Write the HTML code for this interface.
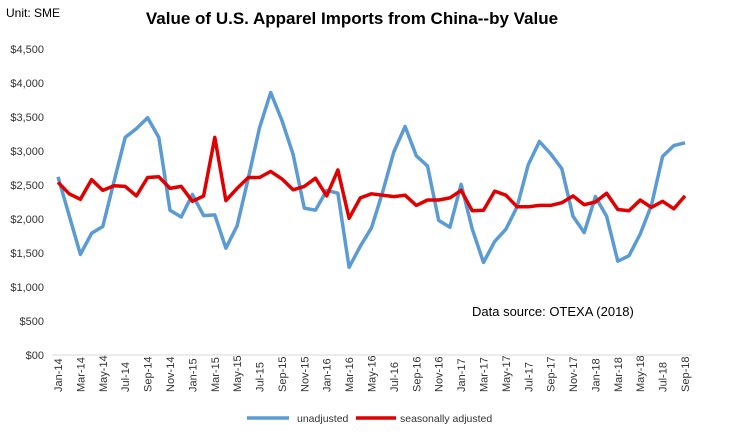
<!DOCTYPE html>
<html><head><meta charset="utf-8"><style>
body{margin:0;background:#fff;}
svg text{font-family:"Liberation Sans",sans-serif;}
</style></head><body>
<svg id="c" width="731" height="432" xmlns="http://www.w3.org/2000/svg">
<rect width="731" height="432" fill="#fff"/>
<text x="6" y="17" font-size="12" fill="#000">Unit: SME</text>
<text x="352" y="24" font-size="17" font-weight="bold" text-anchor="middle" fill="#000">Value of U.S. Apparel Imports from China--by Value</text>
<g id="yl" font-size="11" fill="#333" text-anchor="end"></g>
<line x1="52" y1="355" x2="692" y2="355" stroke="#d9d9d9" stroke-width="1"/>
<g id="xl" font-size="11" fill="#333"></g>
<polyline id="b" fill="none" stroke="#5b9bd5" stroke-width="3.5" stroke-linejoin="round"/>
<polyline id="r" fill="none" stroke="#e00000" stroke-width="3.5" stroke-linejoin="round"/>
<text x="472" y="316" font-size="13" fill="#000">Data source: OTEXA (2018)</text>
<line x1="247" y1="418" x2="289" y2="418" stroke="#5b9bd5" stroke-width="3.5"/>
<text x="297" y="422" font-size="10.5" fill="#333">unadjusted</text>
<line x1="356" y1="418" x2="396" y2="418" stroke="#e00000" stroke-width="3.5"/>
<text x="400" y="422" font-size="10.5" fill="#333">seasonally adjusted</text>
</svg>
<script>
var NS="http://www.w3.org/2000/svg";
function Y(v){return 355-v*0.068;}
function X(i){return 58+i*627/56;}
var yl=document.getElementById('yl');
for(var v=0;v<=4500;v+=500){var t=document.createElementNS(NS,'text');t.setAttribute('x',44);t.setAttribute('y',Y(v)+4);
t.textContent=v==0?'$00':'$'+v.toLocaleString('en-US');yl.appendChild(t);}
var m=['Jan','Mar','May','Jul','Sep','Nov'];var xl=document.getElementById('xl');
for(var i=0;i<57;i+=2){var mo=i%12, yr=14+Math.floor(i/12);var t=document.createElementNS(NS,'text');
var x=X(i)+4;t.setAttribute('transform','translate('+x+',392) rotate(-90)');t.textContent=m[mo/2]+'-'+yr;xl.appendChild(t);}
var b=[2620,2050,1480,1790,1890,2550,3200,3330,3490,3200,2130,2030,2360,2050,2060,1570,1900,2600,3340,3860,3450,2950,2160,2130,2420,2380,1290,1600,1870,2400,2990,3360,2930,2780,1980,1880,2510,1850,1360,1670,1850,2180,2800,3140,2960,2740,2040,1800,2330,2040,1380,1460,1780,2200,2920,3080,3120];
var r=[2540,2370,2290,2580,2420,2490,2480,2340,2610,2620,2450,2480,2260,2340,3200,2270,2450,2610,2610,2700,2590,2430,2480,2600,2340,2720,2010,2310,2370,2350,2330,2350,2200,2280,2280,2310,2420,2120,2130,2410,2350,2180,2180,2200,2200,2240,2340,2210,2250,2380,2140,2120,2280,2170,2260,2150,2340];
function pts(a){return a.map(function(v,i){return X(i).toFixed(1)+','+Y(v).toFixed(1)}).join(' ');}
document.getElementById('b').setAttribute('points',pts(b));
document.getElementById('r').setAttribute('points',pts(r));
</script>
</body></html>
